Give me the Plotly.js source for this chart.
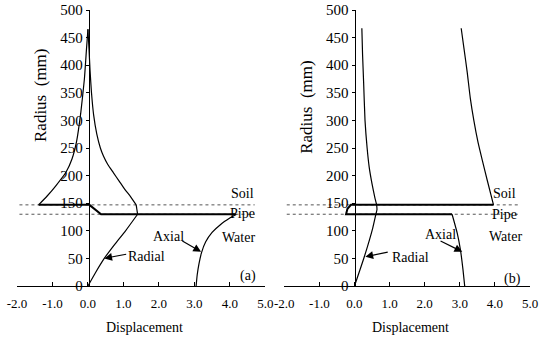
<!DOCTYPE html>
<html>
<head>
<meta charset="utf-8">
<script src="https://cdn.plot.ly/plotly-3.0.1.min.js"></script>
<style>html,body{margin:0;padding:0;background:#fff}#chart{width:550px;height:337px}</style>
</head>
<body>
<div id="chart"></div>
<script>
// ---- Panel (a) ----
const radialWaterA_x = [0, 0.22, 0.46, 0.75, 1.06, 1.40];
const radialWaterA_y = [0, 25, 50, 75, 100, 130];
const radialPipeA_x = [1.40, 1.38, 1.36];
const radialPipeA_y = [130, 138, 147];
const radialSoilA_x = [1.36, 1.2, 1.04, 0.88, 0.72, 0.56, 0.44, 0.35, 0.25, 0.16, 0.10, 0.06, 0.03, 0];
const radialSoilA_y = [147, 162, 175, 190, 205, 220, 235, 250, 275, 310, 350, 390, 430, 465];
const axialSoilA_x = [-1.39, -1.15, -0.9, -0.62, -0.45, -0.32, -0.2, -0.1, -0.04, 0];
const axialSoilA_y = [147, 163, 182, 206, 230, 262, 315, 375, 430, 465];
const axialPipeA_x = [-1.39, 0.04, 0.37, 4.18];
const axialPipeA_y = [147, 147, 130, 130];
const axialWaterA_x = [3.05, 3.08, 3.13, 3.2, 3.32, 3.5, 3.75, 4.0, 4.18];
const axialWaterA_y = [0, 20, 40, 60, 80, 97, 112, 123, 130];

// ---- Panel (b) ----
const radialB_x = [0, 0.28, 0.52, 0.61, 0.64, 0.63, 0.58, 0.50, 0.42, 0.36, 0.30, 0.26, 0.23, 0.21];
const radialB_y = [0, 53, 105, 130, 138, 147, 160, 185, 215, 250, 300, 370, 420, 467];
const axialPipeB_x = [3.96, -0.1, -0.2, -0.24, 2.78];
const axialPipeB_y = [147, 147, 140, 130, 130];
const axialWaterB_x = [2.78, 2.93, 3.02, 3.09, 3.14];
const axialWaterB_y = [130, 95, 65, 30, 0];
const axialSoilB_x = [3.96, 3.78, 3.64, 3.52, 3.40, 3.30, 3.21, 3.12, 3.04];
const axialSoilB_y = [147, 192, 228, 260, 300, 340, 388, 430, 467];

// interfaces (radius, mm)
const soilRadius = 147;
const pipeRadius = 130;
const interfaceX = [-2.1, 4.7];

const xTickVals = [-2, -1, 0, 1, 2, 3, 4, 5];
const xTickText = ["-2.0", "-1.0", "0.0", "1.0", "2.0", "3.0", "4.0", "5.0"];

const FONT = "Liberation Serif";

function line(x, y, xa, ya, w, extra) {
  return Object.assign({x: x, y: y, xaxis: xa, yaxis: ya, mode: 'lines', type: 'scatter',
    hoverinfo: 'skip', showlegend: false, line: {color: '#000', width: w}}, extra || {});
}
function dotted(yv, xa, ya) {
  return {x: interfaceX, y: [yv, yv], xaxis: xa, yaxis: ya, mode: 'lines', type: 'scatter',
    hoverinfo: 'skip', showlegend: false, line: {color: '#555', width: 1, dash: 'dot'}};
}
const sp = {line: {color: '#000', width: 1.2, shape: 'spline', smoothing: 0.5}};

const traces = [
  dotted(soilRadius, 'x', 'y'), dotted(pipeRadius, 'x', 'y'),
  line(radialWaterA_x, radialWaterA_y, 'x', 'y', 1.2, sp),
  line(radialPipeA_x, radialPipeA_y, 'x', 'y', 1.2),
  line(radialSoilA_x, radialSoilA_y, 'x', 'y', 1.2, sp),
  line(axialSoilA_x, axialSoilA_y, 'x', 'y', 1.2, sp),
  line(axialPipeA_x, axialPipeA_y, 'x', 'y', 2),
  line(axialWaterA_x, axialWaterA_y, 'x', 'y', 1.2, sp),

  dotted(soilRadius, 'x2', 'y2'), dotted(pipeRadius, 'x2', 'y2'),
  line(radialB_x, radialB_y, 'x2', 'y2', 1.2, sp),
  line(axialPipeB_x, axialPipeB_y, 'x2', 'y2', 2),
  line(axialWaterB_x, axialWaterB_y, 'x2', 'y2', 1.2, sp),
  line(axialSoilB_x, axialSoilB_y, 'x2', 'y2', 1.2, sp)
];

const xaxisBase = {range: [-2, 5], tickvals: xTickVals, ticktext: xTickText,
  showgrid: false, zeroline: false, showline: true, linecolor: '#000', linewidth: 1,
  ticks: 'inside', ticklen: 4, tickcolor: '#000', ticklabelstandoff: 5,
  tickfont: {family: FONT, size: 13, color: '#000'}, fixedrange: true};
const yaxisBase = {range: [0, 500], dtick: 50, domain: [0, 1], anchor: 'free',
  showgrid: false, zeroline: false, showline: true, linecolor: '#000', linewidth: 1,
  ticks: 'outside', ticklen: 3, tickcolor: '#000',
  tickfont: {family: FONT, size: 15, color: '#000'}, fixedrange: true};

const txt = (t, x, y, xr, yr, extra) => Object.assign({text: t, x: x, y: y, xref: xr, yref: yr,
  xanchor: 'center', yanchor: 'middle',
  showarrow: false, font: {family: FONT, size: 14, color: '#000'}}, extra || {});
const arrow = (x, y, axv, ayv, xr, yr) => ({text: '', x: x, y: y, ax: axv, ay: ayv,
  xref: xr, yref: yr, axref: xr, ayref: yr, showarrow: true, arrowhead: 2, arrowsize: 1.3,
  arrowwidth: 1.2, arrowcolor: '#000', standoff: 0, startstandoff: 0});

const layout = {
  width: 550, height: 337,
  margin: {l: 17, r: 20, t: 10, b: 51},
  paper_bgcolor: '#fff', plot_bgcolor: 'rgba(0,0,0,0)',
  font: {family: FONT, color: '#000'},
  xaxis: Object.assign({}, xaxisBase, {domain: [0, 0.484], anchor: 'y'}),
  yaxis: Object.assign({}, yaxisBase, {position: 0.1398}),
  xaxis2: Object.assign({}, xaxisBase, {domain: [0.521, 1], anchor: 'y2'}),
  yaxis2: Object.assign({}, yaxisBase, {position: 0.6579}),
  annotations: [
    txt('Radius  (mm)', 0.0448, 0.692, 'paper', 'paper', {textangle: -90, font: {family: FONT, size: 17, color: '#000'}}),
    txt('Radius  (mm)', 0.565, 0.6486, 'paper', 'paper', {textangle: -90, font: {family: FONT, size: 17, color: '#000'}}),
    txt('Displacement', 0.2487, -0.1486, 'paper', 'paper'),
    txt('Displacement', 0.768, -0.1486, 'paper', 'paper'),

    txt('Soil', 4.36, 167, 'x', 'y'),
    txt('Pipe', 4.36, 132, 'x', 'y'),
    txt('Water', 4.24, 88, 'x', 'y'),
    txt('Axial', 2.27, 90, 'x', 'y'),
    txt('Radial', 1.66, 54, 'x', 'y'),
    txt('(a)', 4.50, 18, 'x', 'y'),
    arrow(0.46, 50, 1.12, 58, 'x', 'y'),
    arrow(3.19, 62, 2.62, 83, 'x', 'y'),

    txt('Soil', 4.26, 167, 'x2', 'y2'),
    txt('Pipe', 4.26, 130, 'x2', 'y2'),
    txt('Water', 4.29, 89, 'x2', 'y2'),
    txt('Axial', 2.44, 94, 'x2', 'y2'),
    txt('Radial', 1.60, 51, 'x2', 'y2'),
    txt('(b)', 4.49, 13, 'x2', 'y2'),
    arrow(0.31, 53, 0.99, 62, 'x2', 'y2'),
    arrow(3.07, 62, 2.41, 83, 'x2', 'y2')
  ]
};

Plotly.newPlot('chart', traces, layout, {staticPlot: true, displayModeBar: false});
</script>
</body>
</html>
